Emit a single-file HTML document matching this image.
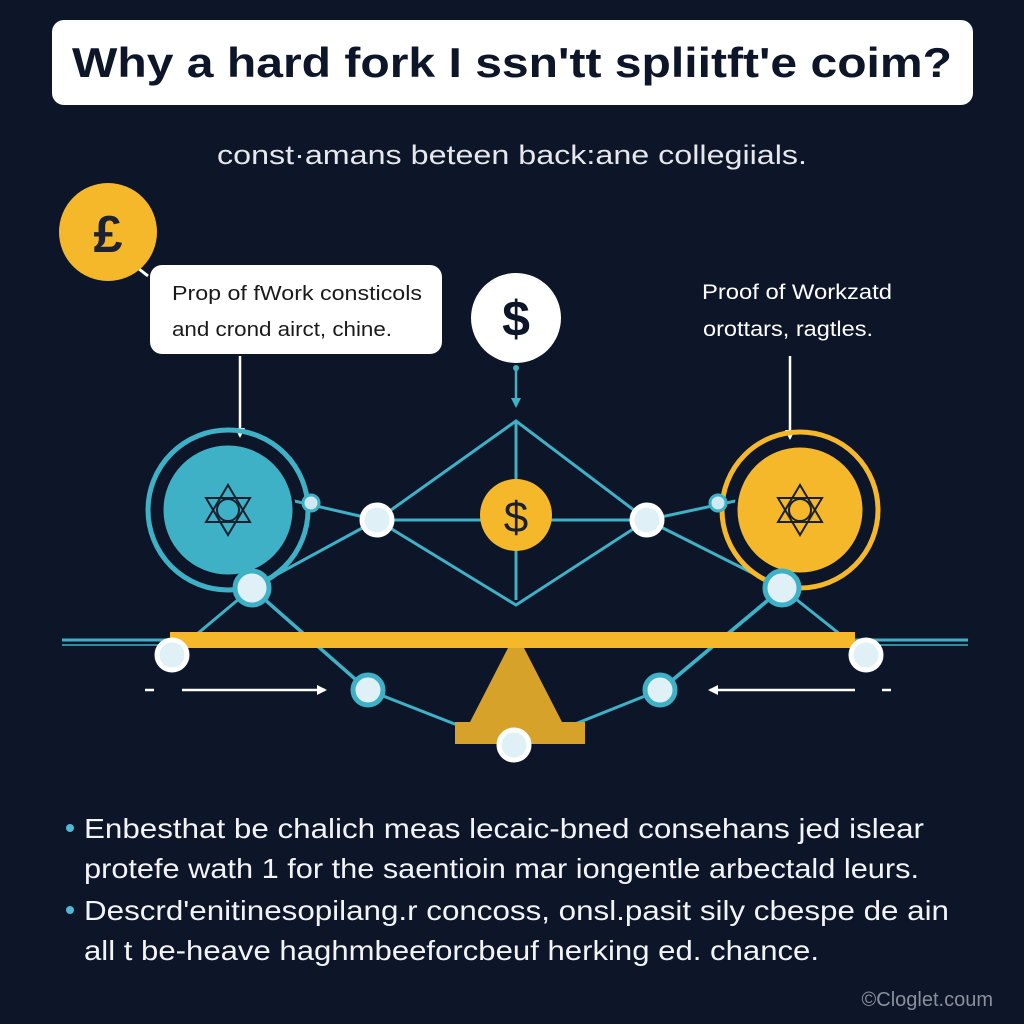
<!DOCTYPE html>
<html><head><meta charset="utf-8"><style>
html,body{margin:0;padding:0;background:#0d1529;}
svg{display:block}
text{font-family:"Liberation Sans",sans-serif;}
</style></head><body>
<svg width="1024" height="1024" viewBox="0 0 1024 1024" xmlns="http://www.w3.org/2000/svg">
<defs>
<marker id="aw" markerWidth="10" markerHeight="10" refX="8" refY="5" orient="auto" markerUnits="userSpaceOnUse"><path d="M0,0 L10,5 L0,10 Z" fill="#fff"/></marker>
<marker id="at" markerWidth="10" markerHeight="10" refX="8" refY="5" orient="auto" markerUnits="userSpaceOnUse"><path d="M0,0 L10,5 L0,10 Z" fill="#3fb1c6"/></marker>
</defs>
<rect width="1024" height="1024" fill="#0d1529"/>
<rect x="52" y="20" width="921" height="85" rx="12" fill="#fff"/>
<text x="512" y="77" text-anchor="middle" font-size="42" font-weight="bold" fill="#0d1529" textLength="880" lengthAdjust="spacingAndGlyphs">Why a hard fork I ssn'tt spliitft'e coim?</text>
<text x="512" y="164" text-anchor="middle" font-size="27" fill="#e6e8ee" textLength="590" lengthAdjust="spacingAndGlyphs">const·amans beteen back:ane collegiials.</text>

<line x1="130" y1="262" x2="148" y2="276" stroke="#fff" stroke-width="3"/>
<circle cx="108" cy="232" r="49" fill="#f5b82a"/>
<text x="108" y="252" text-anchor="middle" font-size="52" font-weight="bold" fill="#1e2230">£</text>
<rect x="150" y="265" width="292" height="89" rx="12" fill="#fff"/>
<text x="172" y="300" font-size="20" fill="#1a1a1a" textLength="250" lengthAdjust="spacingAndGlyphs">Prop of fWork consticols</text>
<text x="172" y="336" font-size="20" fill="#1a1a1a" textLength="220" lengthAdjust="spacingAndGlyphs">and crond airct, chine.</text>

<circle cx="516" cy="318" r="45" fill="#fff"/>
<text x="516" y="336" text-anchor="middle" font-size="50" font-weight="bold" fill="#0d1529">$</text>
<text x="797" y="299" text-anchor="middle" font-size="21" fill="#fff" textLength="190" lengthAdjust="spacingAndGlyphs">Proof of Workzatd</text>
<text x="788" y="336" text-anchor="middle" font-size="21" fill="#fff" textLength="170" lengthAdjust="spacingAndGlyphs">orottars, ragtles.</text>

<line x1="240" y1="356" x2="240" y2="436" stroke="#fff" stroke-width="2.5" marker-end="url(#aw)"/>
<line x1="790" y1="356" x2="790" y2="438" stroke="#fff" stroke-width="2.5" marker-end="url(#aw)"/>
<line x1="516" y1="366" x2="516" y2="406" stroke="#3fb1c6" stroke-width="2.5" marker-end="url(#at)"/>
<circle cx="516" cy="368" r="3" fill="#3fb1c6"/>

<g stroke="#3fb1c6" stroke-width="3" fill="none">
<line x1="62" y1="640" x2="968" y2="640"/>
<line x1="62" y1="645" x2="968" y2="645" stroke-width="1.5"/>
<polyline points="377,520 516,421 647,520"/>
<polyline points="377,520 516,605 647,520"/>
<line x1="516" y1="421" x2="516" y2="600"/>
<line x1="377" y1="520" x2="647" y2="520"/>
<line x1="290" y1="500" x2="377" y2="520"/>
<line x1="252" y1="588" x2="377" y2="520"/>
<line x1="740" y1="500" x2="647" y2="520"/>
<line x1="782" y1="588" x2="647" y2="520"/>
<line x1="252" y1="588" x2="172" y2="655"/>
<line x1="252" y1="588" x2="368" y2="690"/>
<line x1="258" y1="594" x2="374" y2="696"/>
<line x1="368" y1="690" x2="470" y2="730"/>
<line x1="782" y1="588" x2="866" y2="655"/>
<line x1="782" y1="588" x2="660" y2="690"/>
<line x1="776" y1="594" x2="654" y2="696"/>
<line x1="660" y1="690" x2="560" y2="730"/>
</g>

<circle cx="228" cy="510" r="80" fill="none" stroke="#3fb1c6" stroke-width="5"/>
<circle cx="228" cy="510" r="66" fill="#3fb1c6" stroke="#0d1529" stroke-width="3"/>
<circle cx="800" cy="510" r="78" fill="none" stroke="#f5b82a" stroke-width="5"/>
<circle cx="800" cy="510" r="64" fill="#f5b82a" stroke="#0d1529" stroke-width="3"/>
<g fill="none" stroke="#1a2030" stroke-width="2">
<polygon points="228,485 250,522 206,522"/><polygon points="228,535 250,498 206,498"/><circle cx="228" cy="510" r="11"/>
<polygon points="800,485 822,522 778,522"/><polygon points="800,535 822,498 778,498"/><circle cx="800" cy="510" r="11"/>
</g>
<circle cx="311" cy="503" r="8" fill="#cfe9f2" stroke="#3fb1c6" stroke-width="3"/>
<circle cx="718" cy="503" r="8" fill="#cfe9f2" stroke="#3fb1c6" stroke-width="3"/>

<circle cx="516" cy="515" r="36" fill="#f5b82a"/>
<text x="516" y="532" text-anchor="middle" font-size="44" fill="#1a2030">$</text>

<rect x="170" y="632" width="685" height="16" fill="#f5b82a"/>
<polygon points="508,648 524,648 562,722 470,722" fill="#d6a22a"/>
<rect x="455" y="722" width="130" height="22" fill="#d6a22a"/>

<line x1="182" y1="690" x2="325" y2="690" stroke="#fff" stroke-width="2.5" marker-end="url(#aw)"/>
<line x1="855" y1="690" x2="710" y2="690" stroke="#fff" stroke-width="2.5" marker-end="url(#aw)"/>
<line x1="145" y1="690" x2="154" y2="690" stroke="#fff" stroke-width="2.5"/>
<line x1="882" y1="690" x2="891" y2="690" stroke="#fff" stroke-width="2.5"/>

<g fill="#dff0f7" stroke-width="5">
<circle cx="377" cy="520" r="15" stroke="#fff"/>
<circle cx="647" cy="520" r="15" stroke="#fff"/>
<circle cx="252" cy="588" r="17" stroke="#3fb1c6"/>
<circle cx="782" cy="588" r="17" stroke="#3fb1c6"/>
<circle cx="172" cy="655" r="15" stroke="#fff"/>
<circle cx="866" cy="655" r="15" stroke="#fff"/>
<circle cx="368" cy="690" r="15" stroke="#3fb1c6"/>
<circle cx="660" cy="690" r="15" stroke="#3fb1c6"/>
<circle cx="514" cy="745" r="15" stroke="#fff"/>
</g>

<g font-size="28" fill="#f2f4f8">
<circle cx="70" cy="828" r="4" fill="#4fb8d6"/>
<text x="84" y="838" textLength="840" lengthAdjust="spacingAndGlyphs">Enbesthat be chalich meas lecaic-bned consehans jed islear</text>
<text x="84" y="878" textLength="835" lengthAdjust="spacingAndGlyphs">protefe wath 1 for the saentioin mar iongentle arbectald leurs.</text>
<circle cx="70" cy="910" r="4" fill="#4fb8d6"/>
<text x="84" y="920" textLength="865" lengthAdjust="spacingAndGlyphs">Descrd'enitinesopilang.r concoss, onsl.pasit sily cbespe de ain</text>
<text x="84" y="960" textLength="735" lengthAdjust="spacingAndGlyphs">all t be-heave haghmbeeforcbeuf herking ed. chance.</text>
</g>
<text x="993" y="1006" text-anchor="end" font-size="20" fill="#8a8f9a">©Cloglet.coum</text>
</svg>
</body></html>
